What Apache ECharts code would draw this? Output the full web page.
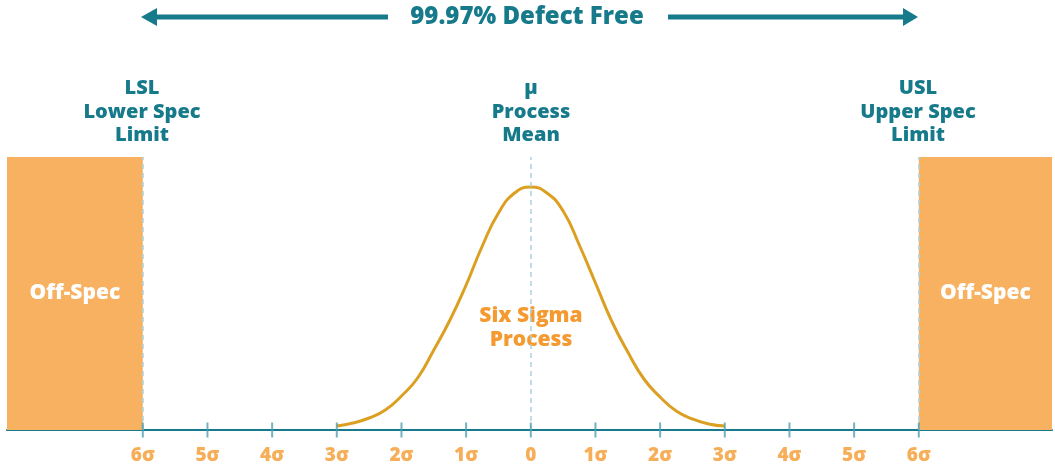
<!DOCTYPE html>
<html>
<head>
<meta charset="utf-8">
<title>Six Sigma Process</title>
<script src="https://cdn.jsdelivr.net/npm/echarts@6/dist/echarts.min.js"></script>
<style>
  html, body { margin: 0; padding: 0; background: #fff; }
  #chart { width: 1055px; height: 464px; }
</style>
</head>
<body>
<div id="chart"></div>
<script>
// curve: x in sigma, y = height above the axis
const curveX = [-3, -2.75, -2.5, -2.25, -2, -1.75, -1.5, -1.25, -1, -0.75, -0.5, -0.25, 0,
  0.25, 0.5, 0.75, 1, 1.25, 1.5, 1.75, 2, 2.25, 2.5, 2.75, 3];
const curveY = [4, 7, 12, 20, 34, 52, 80, 110, 145, 184, 217, 237, 243,
  237, 219, 185, 147, 109, 78, 51, 33, 19, 11, 6, 4];

const sigmaTicks = [-6, -5, -4, -3, -2, -1, 0, 1, 2, 3, 4, 5, 6];
const specLimits = [-6, 0, 6];
const offSpecLeft = [-8.1, -6];
const offSpecRight = [6, 8.06];

const teal = '#167a8b';
const orange = '#f59a30';
const fillOrange = '#f7b160';
const curveColor = '#dba022';
const font = '"Open Sans", "Noto Sans", sans-serif';

const chart = echarts.init(document.getElementById('chart'));

const option = {
  animation: false,
  grid: { left: 7, right: 3, top: 157, bottom: 34 },
  xAxis: {
    type: 'value',
    min: offSpecLeft[0],
    max: offSpecRight[1],
    axisLine: { show: true, lineStyle: { color: teal, width: 2 } },
    axisTick: { show: false },
    axisLabel: { show: false },
    splitLine: { show: false }
  },
  yAxis: {
    type: 'value',
    min: 0,
    max: 273,
    show: false,
    splitLine: { show: false }
  },
  series: [
    {
      name: 'process',
      type: 'line',
      smooth: true,
      symbol: 'none',
      lineStyle: { color: curveColor, width: 3 },
      data: curveX.map((x, i) => [x, curveY[i]]),
      markArea: {
        silent: true,
        itemStyle: { color: fillOrange },
        label: {
          show: true,
          position: 'inside',
          color: '#fff',
          fontFamily: font,
          fontWeight: 800,
          fontSize: 21
        },
        data: [
          [{ name: 'Off-Spec', xAxis: offSpecLeft[0], yAxis: 0 }, { xAxis: offSpecLeft[1], yAxis: 273 }],
          [{ name: 'Off-Spec', xAxis: offSpecRight[0], yAxis: 0 }, { xAxis: offSpecRight[1], yAxis: 273 }]
        ]
      },
      markLine: {
        silent: true,
        symbol: 'none',
        label: { show: false },
        lineStyle: { color: '#a9d2de', width: 1.5, type: [5, 4] },
        data: specLimits.map(v => ({ xAxis: v }))
      }
    },
    {
      name: 'ticks',
      type: 'scatter',
      symbol: 'rect',
      symbolSize: [2, 15],
      itemStyle: { color: '#4f9fb2' },
      z: 5,
      label: {
        show: true,
        position: 'bottom',
        distance: 9,
        color: orange,
        fontFamily: font,
        fontWeight: 800,
        fontSize: 19,
        formatter: p => p.value[0] === 0 ? '0' : Math.abs(p.value[0]) + 'σ'
      },
      data: sigmaTicks.map(v => [v, 0])
    }
  ],
  graphic: [
    // 99.97% arrow
    { type: 'line', shape: { x1: 154, y1: 17, x2: 388, y2: 17 }, style: { stroke: teal, lineWidth: 5 } },
    { type: 'polygon', shape: { points: [[141, 17], [157, 8], [157, 26]] }, style: { fill: teal } },
    { type: 'line', shape: { x1: 668, y1: 17, x2: 906, y2: 17 }, style: { stroke: teal, lineWidth: 5 } },
    { type: 'polygon', shape: { points: [[918, 17], [903, 8], [903, 26]] }, style: { fill: teal } },
    {
      type: 'text', x: 527, y: 17,
      style: {
        text: '99.97% Defect Free', fill: teal, font: '800 24px ' + font,
        textAlign: 'center', textVerticalAlign: 'middle'
      }
    },
    {
      type: 'text', x: 142, y: 112,
      style: {
        text: 'LSL\nLower Spec\nLimit', fill: teal, font: '800 20px ' + font,
        lineHeight: 23.5, textAlign: 'center', textVerticalAlign: 'middle'
      }
    },
    {
      type: 'text', x: 531, y: 112,
      style: {
        text: 'μ\nProcess\nMean', fill: teal, font: '800 20px ' + font,
        lineHeight: 23.5, textAlign: 'center', textVerticalAlign: 'middle'
      }
    },
    {
      type: 'text', x: 918, y: 112,
      style: {
        text: 'USL\nUpper Spec\nLimit', fill: teal, font: '800 20px ' + font,
        lineHeight: 23.5, textAlign: 'center', textVerticalAlign: 'middle'
      }
    },
    {
      type: 'text', x: 531, y: 328,
      style: {
        text: 'Six Sigma\nProcess', fill: orange, font: '800 21px ' + font,
        lineHeight: 24, textAlign: 'center', textVerticalAlign: 'middle'
      }
    }
  ]
};

chart.setOption(option);
</script>
</body>
</html>
